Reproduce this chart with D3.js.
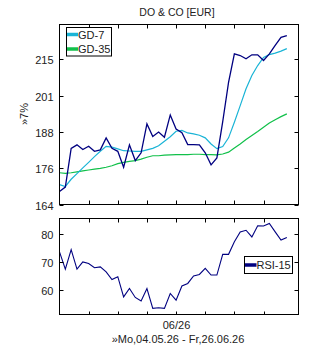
<!DOCTYPE html>
<html>
<head>
<meta charset="utf-8">
<script src="https://cdn.jsdelivr.net/npm/d3@7/dist/d3.min.js"></script>
<style>
  html, body { margin: 0; padding: 0; background: #fff; }
  svg { display: block; }
  text { font-family: "Liberation Sans", Arial, sans-serif; fill: #222; }
</style>
</head>
<body>
<svg id="chart" width="310" height="350"></svg>
<script>
// ---- data (trading days Mo 04.05.26 .. Fr 26.06.26, index 0..39) ----
const price = [168.0, 169.4, 182.1, 183.3, 181.7, 182.8, 181.1, 181.6, 185.7, 182.1,
               181.1, 175.8, 183.3, 178.0, 180.6, 190.6, 186.2, 187.7, 185.9, 193.8,
               188.8, 187.5, 183.4, 183.4, 183.3, 180.6, 176.6, 178.9, 191.4, 205.9,
               217.2, 216.5, 215.2, 216.8, 216.8, 214.5, 217.2, 220.6, 224.0, 224.7];
const gd7 = [170.2, 169.6, 171.9, 173.7, 175.6, 177.4, 179.3, 181.1, 182.8, 182.5,
             181.9, 181.3, 181.2, 181.1, 181.1, 181.6, 182.1, 183.0, 184.5, 186.1,
             188.0, 188.3, 187.4, 187.1, 186.6, 185.7, 183.6, 182.0, 182.7, 185.7,
             191.2, 197.2, 203.5, 208.6, 212.5, 215.7, 216.9, 217.5, 218.3, 219.3];
const gd35 = [174.0, 173.8, 174.0, 174.3, 174.6, 174.9, 175.2, 175.4, 175.8, 176.3,
              177.0, 177.4, 177.7, 178.0, 178.5, 179.1, 179.6, 179.6, 179.8, 179.9,
              180.0, 180.0, 180.0, 180.1, 180.1, 180.0, 180.0, 179.9, 180.2, 180.8,
              182.2, 183.6, 185.1, 186.5, 187.9, 189.4, 190.9, 192.1, 193.2, 194.2];
const rsi = [73.8, 67.6, 74.6, 67.6, 70.2, 69.6, 68.1, 68.4, 66.6, 63.9,
             64.9, 57.7, 60.7, 57.5, 56.2, 60.7, 53.6, 53.8, 53.6, 58.9,
             56.5, 61.6, 62.5, 65.2, 65.7, 67.9, 65.5, 65.5, 72.9, 72.9,
             77.4, 80.9, 81.5, 79.1, 83.1, 83.0, 83.9, 80.9, 78.0, 78.9];
const xTickIdx = [5, 10, 15, 20, 25, 30, 35];
const xTickLabels = {20: "06/26"};
const yTickLabels = ["164", "176", "188", "201", "215"];
const rsiTicks = [60, 70, 80];
const title = "DO & CO [EUR]";
const yLabel = "\u00bb7%";
const dateRange = "\u00bbMo,04.05.26 - Fr,26.06.26";

// ---- layout ----
const L = 59.5, R = 298.5;
const mT = 24.5, mB = 204.5;
const rT = 218.5, rB = 314.5;
const base = 164, step = 1.07;
const yTickVals = yTickLabels.map((d, i) => base * Math.pow(step, i));

const svg = d3.select("#chart");
const x = d3.scaleLinear().domain([0, 41]).range([L, R]);
const y = d3.scaleLog().domain([base, base * Math.pow(step, 4.96)]).range([mB, mT]);
const yr = d3.scaleLinear().domain([51.4, 85.7]).range([rB, rT]);

const idx = d3.range(price.length);

// title
svg.append("text").attr("x", 177).attr("y", 16).attr("text-anchor", "middle")
  .style("font-size", "10.5px").text(title);

// y label
svg.append("text").attr("transform", "translate(28,114) rotate(-90)")
  .attr("text-anchor", "middle").style("font-size", "11px").text(yLabel);

function frame(top, bottom) {
  svg.append("rect").attr("x", L).attr("y", top).attr("width", R - L).attr("height", bottom - top)
    .attr("fill", "none").attr("stroke", "#000").attr("stroke-width", 1);
}

// main panel lines
const clipM = svg.append("clipPath").attr("id", "cm").append("rect")
  .attr("x", L).attr("y", mT).attr("width", R - L).attr("height", mB - mT);
const gM = svg.append("g").attr("clip-path", "url(#cm)");
const lineM = arr => d3.line().x((d, i) => x(i)).y(d => y(d))(arr);
gM.append("path").attr("d", lineM(gd35)).attr("fill", "none").attr("stroke", "#11c04a").attr("stroke-width", 1.2);
gM.append("path").attr("d", lineM(gd7)).attr("fill", "none").attr("stroke", "#1ab4d6").attr("stroke-width", 1.2);
gM.append("path").attr("d", lineM(price)).attr("fill", "none").attr("stroke", "#000080").attr("stroke-width", 1.3);

frame(mT, mB);

// main ticks
const tk = 4;
yTickVals.forEach((v, i) => {
  const yy = Math.round(y(v)) + 0.5;
  svg.append("line").attr("x1", L).attr("x2", L + tk).attr("y1", yy).attr("y2", yy).attr("stroke", "#000");
  svg.append("line").attr("x1", R - tk).attr("x2", R).attr("y1", yy).attr("y2", yy).attr("stroke", "#000");
  svg.append("text").attr("x", L - 6).attr("y", yy + 4).attr("text-anchor", "end")
    .style("font-size", "11px").text(yTickLabels[i]);
});
xTickIdx.forEach(i => {
  const xx = Math.round(x(i)) + 0.5;
  svg.append("line").attr("x1", xx).attr("x2", xx).attr("y1", mT).attr("y2", mT + tk).attr("stroke", "#000");
  svg.append("line").attr("x1", xx).attr("x2", xx).attr("y1", mB - tk).attr("y2", mB).attr("stroke", "#000");
  svg.append("line").attr("x1", xx).attr("x2", xx).attr("y1", rT).attr("y2", rT + tk).attr("stroke", "#000");
  svg.append("line").attr("x1", xx).attr("x2", xx).attr("y1", rB - 3).attr("y2", rB).attr("stroke", "#000");
  if (xTickLabels[i]) {
    svg.append("text").attr("x", xx).attr("y", 329).attr("text-anchor", "middle")
      .style("font-size", "11px").text(xTickLabels[i]);
  }
});

// main legend
const lg = svg.append("g");
lg.append("rect").attr("x", 66.5).attr("y", 27.5).attr("width", 45).attr("height", 28.5)
  .attr("fill", "#fff").attr("stroke", "#000");
[["GD-7", "#1ab4d6", 34.5], ["GD-35", "#11c04a", 49]].forEach(([t, c, yy]) => {
  lg.append("line").attr("x1", 67).attr("x2", 78).attr("y1", yy).attr("y2", yy)
    .attr("stroke", c).attr("stroke-width", 3.5);
  lg.append("text").attr("x", 78).attr("y", yy + 4).style("font-size", "11px").text(t);
});

// RSI panel
svg.append("clipPath").attr("id", "cr").append("rect")
  .attr("x", L).attr("y", rT).attr("width", R - L).attr("height", rB - rT);
const gR = svg.append("g").attr("clip-path", "url(#cr)");
gR.append("path").attr("d", d3.line().x((d, i) => x(i)).y(d => yr(d))(rsi))
  .attr("fill", "none").attr("stroke", "#000080").attr("stroke-width", 1.1);
frame(rT, rB);
rsiTicks.forEach(v => {
  const yy = Math.round(yr(v)) + 0.5;
  svg.append("line").attr("x1", L).attr("x2", L + tk).attr("y1", yy).attr("y2", yy).attr("stroke", "#000");
  svg.append("line").attr("x1", R - tk).attr("x2", R).attr("y1", yy).attr("y2", yy).attr("stroke", "#000");
  svg.append("text").attr("x", L - 6).attr("y", yy + 4).attr("text-anchor", "end")
    .style("font-size", "11px").text(v);
});

// RSI legend
const lr = svg.append("g");
lr.append("rect").attr("x", 244.5).attr("y", 256.5).attr("width", 48).attr("height", 17)
  .attr("fill", "#fff").attr("stroke", "#000");
lr.append("line").attr("x1", 245).attr("x2", 256.5).attr("y1", 265).attr("y2", 265)
  .attr("stroke", "#000080").attr("stroke-width", 3.5);
lr.append("text").attr("x", 256.5).attr("y", 269).style("font-size", "11px").text("RSI-15");

// date range
svg.append("text").attr("x", 178).attr("y", 343).attr("text-anchor", "middle")
  .style("font-size", "11px").text(dateRange);
</script>
</body>
</html>
